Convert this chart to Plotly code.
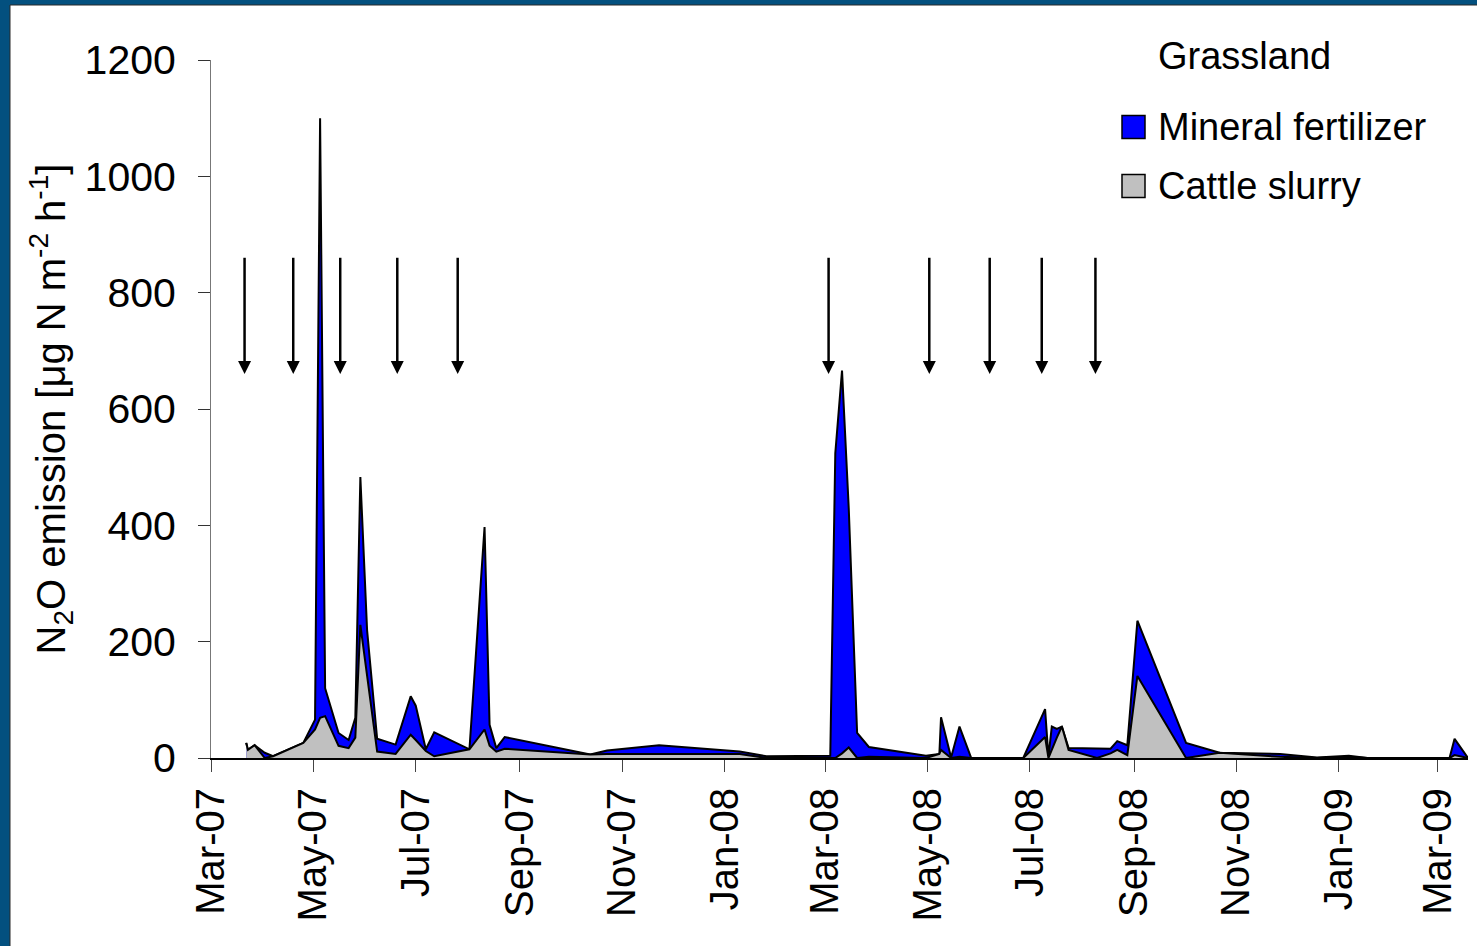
import plotly.graph_objects as go

# Sampling dates (shared by both treatments)
dates = [
    "2007-03-22", "2007-03-23", "2007-03-27", "2007-04-02", "2007-04-07", "2007-04-25",
    "2007-05-02", "2007-05-05", "2007-05-08", "2007-05-16", "2007-05-22", "2007-05-26",
    "2007-05-29", "2007-06-02", "2007-06-08", "2007-06-19", "2007-06-28", "2007-07-01",
    "2007-07-07", "2007-07-12", "2007-08-02", "2007-08-11", "2007-08-14", "2007-08-18",
    "2007-08-23", "2007-10-13", "2007-10-23", "2007-11-23", "2008-01-10", "2008-01-26",
    "2008-03-04", "2008-03-07", "2008-03-11", "2008-03-15", "2008-03-20", "2008-03-27",
    "2008-04-30", "2008-05-08", "2008-05-09", "2008-05-15", "2008-05-20", "2008-05-27",
    "2008-06-27", "2008-07-10", "2008-07-12", "2008-07-14", "2008-07-17", "2008-07-20",
    "2008-07-24", "2008-08-10", "2008-08-18", "2008-08-22", "2008-08-28", "2008-09-03",
    "2008-10-02", "2008-10-22", "2008-11-27", "2008-12-19", "2009-01-07", "2009-01-18",
    "2009-03-08", "2009-03-11", "2009-03-19",
]

# N2O flux, µg N m-2 h-1
mineral_fertilizer = [
    26, 14, 22, 9, 3, 26,
    66, 1100, 120, 43, 31, 69,
    483, 220, 33, 23, 106, 90,
    15, 44, 15, 397, 57, 17,
    36, 6, 13, 22, 11, 3,
    4, 524, 666, 430, 43, 19,
    4, 7, 70, 1, 54, 0,
    0, 84, 2, 54, 50, 54,
    17, 16, 16, 29, 22, 236,
    26, 9, 7, 1, 4, 0,
    0, 33, 0,
]
cattle_slurry = [
    26, 14, 22, 0, 3, 26,
    49, 69, 72, 21, 17, 35,
    229, 140, 11, 7, 40, 31,
    12, 3, 15, 49, 21, 11,
    16, 6, 7, 7, 7, 0,
    0, 0, 8, 18, 0, 2,
    0, 7, 14, 0, 2, 0,
    0, 36, 0, 15, 35, 54,
    14, 0, 8, 14, 5, 141,
    0, 9, 2, 0, 2, 0,
    0, 5, 0,
]

# Fertilization events (arrows)
fertilization_dates = [
    "2007-03-21", "2007-04-19", "2007-05-17", "2007-06-20", "2007-07-26",
    "2008-03-03", "2008-05-02", "2008-06-07", "2008-07-08", "2008-08-09",
]
ARROW_TOP, ARROW_TIP = 860, 660

series_names = ["Mineral fertilizer", "Cattle slurry"]
legend_title = "Grassland"

W, H = 1477, 946
L, R, T, B = 211, 9, 60, 188
PW, PH = W - L - R, H - T - B
FONT = "Liberation Sans, Arial, sans-serif"
FRAME_BLUE = "#03507f"
BLUE = "#0000ff"
GREY = "#c0c0c0"


def px_x(px):
    return (px - L) / PW


def px_y(py):
    return (H - B - py) / PH


fig = go.Figure()
fig.add_trace(go.Scatter(
    x=dates, y=mineral_fertilizer, mode="lines", fill="tozeroy",
    fillcolor=BLUE, line=dict(color="black", width=2), name=series_names[0],
    showlegend=False, hoverinfo="skip",
))
fig.add_trace(go.Scatter(
    x=dates, y=cattle_slurry, mode="lines", fill="tozeroy",
    fillcolor=GREY, line=dict(color="black", width=2), name=series_names[1],
    showlegend=False, hoverinfo="skip",
))

# Application arrows: shafts, then heads (arrow-down marker tip sits on the point)
shaft_x, shaft_y = [], []
for d in fertilization_dates:
    shaft_x += [d, d, None]
    shaft_y += [ARROW_TOP, ARROW_TIP + 8, None]
fig.add_trace(go.Scatter(
    x=shaft_x, y=shaft_y, mode="lines", line=dict(color="black", width=2.5),
    showlegend=False, hoverinfo="skip",
))
fig.add_trace(go.Scatter(
    x=fertilization_dates, y=[ARROW_TIP] * len(fertilization_dates),
    mode="markers",
    marker=dict(symbol="arrow-down", size=13, color="black",
                line=dict(width=0)),
    showlegend=False, hoverinfo="skip",
))

shapes = [
    # white slide panel with a thin dark edge
    dict(type="rect", xref="paper", yref="paper", layer="below",
         x0=px_x(10), x1=px_x(1520), y0=px_y(990), y1=px_y(5),
         fillcolor="white", line=dict(color="#2a2a2a", width=1)),
]

# Legend
legend_rows = [(series_names[0], BLUE, 127), (series_names[1], GREY, 186)]
annotations = [dict(
    text=legend_title, xref="paper", yref="paper", x=px_x(1156), y=px_y(56),
    xanchor="left", yanchor="middle", showarrow=False,
    font=dict(family=FONT, size=38, color="black"),
)]
for name, col, cy in legend_rows:
    shapes.append(dict(
        type="rect", xref="paper", yref="paper",
        x0=px_x(1122), x1=px_x(1145), y0=px_y(cy + 11.5), y1=px_y(cy - 11.5),
        fillcolor=col, line=dict(color="black", width=1.5),
    ))
    annotations.append(dict(
        text=name, xref="paper", yref="paper", x=px_x(1156), y=px_y(cy),
        xanchor="left", yanchor="middle", showarrow=False,
        font=dict(family=FONT, size=38, color="black"),
    ))

for a in annotations:
    fig.add_annotation(**a)

fig.update_layout(
    width=W, height=H,
    margin=dict(l=L, r=R, t=T, b=B, pad=0),
    paper_bgcolor=FRAME_BLUE, plot_bgcolor="white",
    font=dict(family=FONT, color="black"),
    shapes=shapes,
    showlegend=False,
)

fig.update_xaxes(
    type="date", range=["2007-03-01", "2009-03-19"],
    tick0="2007-03-01", dtick="M2", tickformat="%b-%y", tickangle=-90,
    ticks="outside", ticklen=12, tickwidth=1, tickcolor="#444",
    tickfont=dict(family=FONT, size=40, color="black"),
    showline=True, linecolor="black", linewidth=2,
    showgrid=False, zeroline=False, automargin=False,
)
fig.update_yaxes(
    range=[0, 1200], tickvals=[0, 200, 400, 600, 800, 1000, 1200],
    ticks="outside", ticklen=12, tickwidth=1, tickcolor="#333",
    tickfont=dict(family=FONT, size=41, color="black"),
    ticklabelstandoff=14,
    showline=True, linecolor="#777", linewidth=1,
    showgrid=False, zeroline=False, automargin=False,
    title=dict(
        text="N<sub>2</sub>O emission [μg N m<sup>-2</sup> h<sup>-1</sup>]",
        font=dict(family=FONT, size=40, color="black"), standoff=6,
    ),
)

fig.write_html("out.html")
